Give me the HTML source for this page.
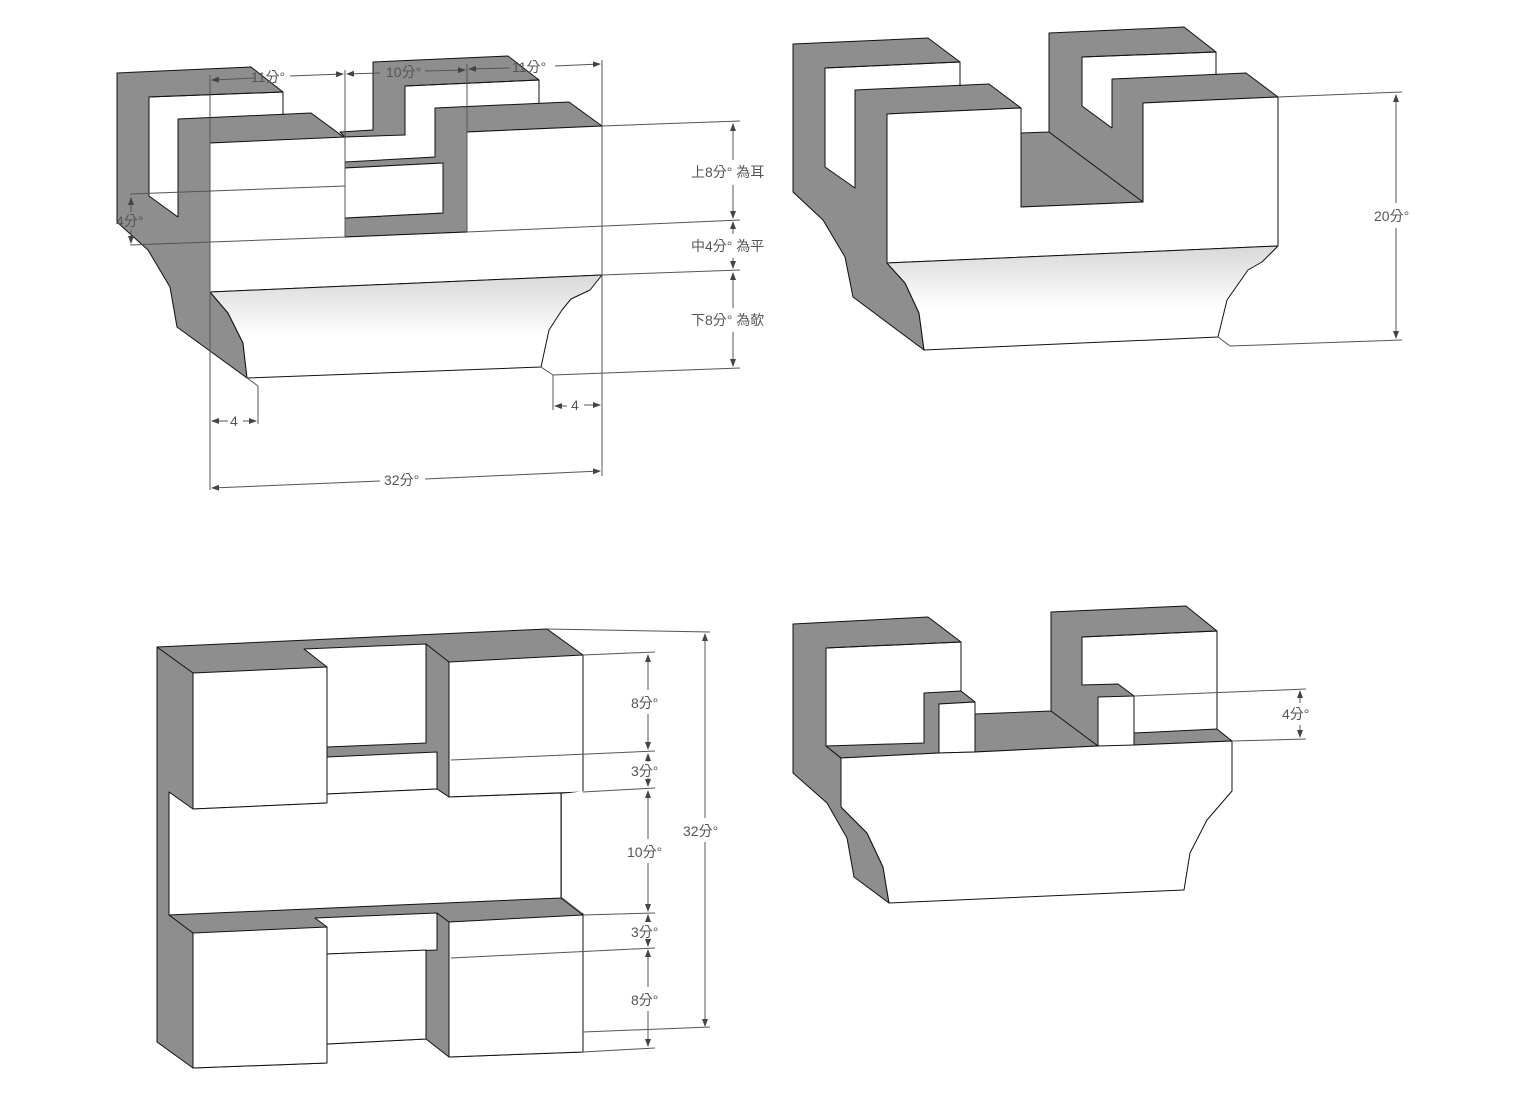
<!DOCTYPE html>
<html><head><meta charset="utf-8"><style>
html,body{margin:0;padding:0;background:#fff}
svg{display:block}
text{font-family:"Liberation Sans","Noto Sans CJK TC",sans-serif;font-size:14px;fill:#555}
</style></head><body>
<svg width="1534" height="1096" viewBox="0 0 1534 1096" xmlns="http://www.w3.org/2000/svg">
<defs>
<linearGradient id="g" x1="0" y1="0" x2="0" y2="1">
<stop offset="0" stop-color="#d8d8d8"/><stop offset="0.6" stop-color="#fff"/></linearGradient>
<linearGradient id="gs" x1="0" y1="0" x2="1" y2="0">
<stop offset="0" stop-color="#8a8a8a"/><stop offset="1" stop-color="#707070"/></linearGradient>
<marker id="a" markerWidth="8" markerHeight="8" refX="7" refY="4" orient="auto-start-reverse" markerUnits="userSpaceOnUse"><path d="M0,1 L8,4 L0,7z" fill="#444"/></marker>
</defs>
<g stroke="#111" stroke-width="1" stroke-linejoin="round">
<!-- FIG 1 -->
<polygon fill="#8e8e8e" points="117,73 251,67 283,92 149,97 149,196 178,217 178,119 311,113 345,138 210,143 210,292 228,313 243,343 247,378 177,327 170,287 148,250 117,222"/>
<polyline fill="none" points="149,97 283,92 283,115"/>
<polygon fill="#8e8e8e" points="373,62 508,56 539,80 405,86 405,135 345,137 340,132 373,130"/>
<polyline fill="none" points="405,86 539,80 539,103"/>
<polygon fill="#8e8e8e" points="435,108 569,102 602,126 467,132 467,232 345,237 345,218 443,213 443,163 345,168 345,162 435,157"/>
<polygon fill="#fff" points="345,168 443,163 443,213 345,218"/>
<polygon fill="#fff" points="210,143 345,137 345,237 467,232 467,132 602,126 602,275 210,292"/>
<polygon fill="url(#g)" points="210,292 602,275 590,290 571,299 562,310 549,330 541,367 247,378 243,343 228,313"/>
<!-- FIG 2 -->
<polygon fill="#8e8e8e" points="793,44 928,38 960,62 825,68 825,167 855,188 855,90 989,84 1021,108 887,114 887,263 905,283 919,313 924,350 853,297 845,257 823,220 793,192"/>
<polyline fill="none" points="825,68 960,62 960,86"/>
<polygon fill="#8e8e8e" points="1049,33 1184,27 1216,52 1082,57 1082,106 1112,128 1112,79 1246,73 1278,97 1143,103 1143,202 1021,207 1021,133 1049,132"/>
<line x1="1049" y1="132" x2="1143" y2="202"/>
<polyline fill="none" points="1082,57 1216,52 1216,75"/>
<polygon fill="#fff" points="887,114 1021,108 1021,207 1143,202 1143,103 1278,97 1278,246 887,263"/>
<polygon fill="url(#g)" points="887,263 1278,246 1262,262 1248,270 1227,300 1218,337 924,350 919,313 905,283"/>
<!-- FIG 3 -->
<polygon fill="#8e8e8e" points="157,647 547,629 583,655 583,1052 449,1057 426,1039 327,1044 327,1063 193,1068 157,1042"/>
<line x1="157" y1="647" x2="193" y2="673"/>
<polygon fill="#fff" points="304,649 426,644 426,743 327,747 327,667"/>
<polygon fill="#fff" points="193,673 327,667 327,803 193,809"/>
<polygon fill="#fff" points="449,662 583,655 583,792 449,797"/>
<line x1="426" y1="644" x2="449" y2="662"/>
<polygon fill="#fff" points="327,757 437,752 437,789 327,794"/>
<polygon fill="#fff" points="169,792 193,809 327,803 327,794 437,789 449,797 561,793 561,898 169,915"/>
<polygon fill="#fff" stroke="none" points="562,794 584,791 584,914 562,897"/>
<line x1="169" y1="915" x2="193" y2="933"/>
<polygon fill="#fff" points="315,918 437,913 437,950 327,954 327,927"/>
<polygon fill="#fff" points="327,954 426,950 426,1039 327,1044"/>
<polygon fill="#fff" points="193,933 327,927 327,1063 193,1068"/>
<polygon fill="#fff" points="449,922 583,915 583,1052 449,1057"/>
<line x1="561" y1="898" x2="583" y2="915"/>
<line x1="437" y1="913" x2="449" y2="922"/>
<!-- FIG 4 -->
<polygon fill="#8e8e8e" points="793,624 928,617 961,642 826,648 826,746 841,758 841,807 867,833 883,867 889,903 854,877 847,838 827,803 793,773"/>
<polyline fill="none" points="826,648 961,642 961,692"/>
<polygon fill="#8e8e8e" points="826,746 924,743 924,693 961,691 975,702 939,704 939,753 841,758"/>
<polygon fill="#8e8e8e" points="975,714 1051,711 1051,612 1186,606 1217,631 1082,637 1082,685 1118,684 1134,696 1098,697 1098,746 975,752"/>
<line x1="1051" y1="711" x2="1098" y2="746"/>
<polygon fill="#fff" points="939,704 975,702 975,752 939,753"/>
<polyline fill="none" points="1082,637 1217,631 1217,730"/>
<polygon fill="#8e8e8e" points="1134,733 1217,729 1232,741 1134,745"/>
<line x1="1134" y1="696" x2="1134" y2="745"/>
<polygon fill="#fff" points="841,758 939,753 975,752 1098,746 1134,745 1232,741 1232,791 1207,820 1190,853 1184,890 889,903 883,867 867,833 841,807"/>
</g>
<!-- dimension lines -->
<g stroke="#555" stroke-width="1" fill="none">
<line x1="210" y1="75" x2="210" y2="490"/><line x1="345" y1="70" x2="345" y2="237"/>
<line x1="467" y1="64" x2="467" y2="232"/><line x1="602" y1="60" x2="602" y2="476"/>
<line x1="212" y1="80" x2="255" y2="78" marker-start="url(#a)"/><line x1="290" y1="76" x2="343" y2="74" marker-end="url(#a)"/>
<line x1="347" y1="74" x2="380" y2="73" marker-start="url(#a)"/><line x1="425" y1="71" x2="465" y2="70" marker-end="url(#a)"/>
<line x1="469" y1="69" x2="510" y2="68" marker-start="url(#a)"/><line x1="555" y1="66" x2="600" y2="64" marker-end="url(#a)"/>
<line x1="602" y1="126" x2="740" y2="121"/><line x1="467" y1="232" x2="740" y2="220"/><line x1="602" y1="275" x2="740" y2="270"/>
<line x1="541" y1="367" x2="553" y2="375" /><line x1="553" y1="375" x2="740" y2="368"/>
<line x1="733" y1="124" x2="733" y2="160" marker-start="url(#a)"/><line x1="733" y1="185" x2="733" y2="218" marker-end="url(#a)"/>
<line x1="733" y1="222" x2="733" y2="234" marker-start="url(#a)"/><line x1="733" y1="258" x2="733" y2="268" marker-end="url(#a)"/>
<line x1="733" y1="273" x2="733" y2="308" marker-start="url(#a)"/><line x1="733" y1="332" x2="733" y2="366" marker-end="url(#a)"/>
<line x1="130" y1="194" x2="345" y2="186"/><line x1="130" y1="245" x2="345" y2="237"/>
<line x1="131" y1="198" x2="131" y2="212" marker-start="url(#a)"/><line x1="131" y1="230" x2="131" y2="243" marker-end="url(#a)"/>
<line x1="247" y1="378" x2="258" y2="386"/><line x1="258" y1="386" x2="258" y2="424"/>
<line x1="553" y1="375" x2="553" y2="410"/>
<line x1="212" y1="421" x2="228" y2="421" marker-start="url(#a)"/><line x1="243" y1="421" x2="256" y2="421" marker-end="url(#a)"/>
<line x1="555" y1="406" x2="567" y2="406" marker-start="url(#a)"/><line x1="584" y1="405" x2="600" y2="405" marker-end="url(#a)"/>
<line x1="212" y1="488" x2="380" y2="481" marker-start="url(#a)"/><line x1="425" y1="479" x2="600" y2="471" marker-end="url(#a)"/>
<!-- fig2 -->
<line x1="1278" y1="97" x2="1402" y2="92"/><line x1="1218" y1="337" x2="1230" y2="346"/><line x1="1230" y1="346" x2="1402" y2="340"/>
<line x1="1396" y1="95" x2="1396" y2="203" marker-start="url(#a)"/><line x1="1396" y1="228" x2="1396" y2="338" marker-end="url(#a)"/>
<!-- fig3 -->
<line x1="547" y1="629" x2="710" y2="632"/><line x1="583" y1="655" x2="655" y2="652"/>
<line x1="451" y1="760" x2="655" y2="751"/><line x1="583" y1="792" x2="655" y2="788"/>
<line x1="583" y1="915" x2="655" y2="913"/><line x1="451" y1="958" x2="655" y2="948"/>
<line x1="583" y1="1032" x2="710" y2="1027"/><line x1="583" y1="1052" x2="655" y2="1048"/>
<line x1="648" y1="655" x2="648" y2="690" marker-start="url(#a)"/><line x1="648" y1="714" x2="648" y2="749" marker-end="url(#a)"/>
<line x1="648" y1="754" x2="648" y2="762" marker-start="url(#a)"/><line x1="648" y1="778" x2="648" y2="786" marker-end="url(#a)"/>
<line x1="648" y1="791" x2="648" y2="839" marker-start="url(#a)"/><line x1="648" y1="863" x2="648" y2="911" marker-end="url(#a)"/>
<line x1="648" y1="915" x2="648" y2="922" marker-start="url(#a)"/><line x1="648" y1="940" x2="648" y2="946" marker-end="url(#a)"/>
<line x1="648" y1="950" x2="648" y2="987" marker-start="url(#a)"/><line x1="648" y1="1011" x2="648" y2="1046" marker-end="url(#a)"/>
<line x1="705" y1="634" x2="705" y2="818" marker-start="url(#a)"/><line x1="705" y1="842" x2="705" y2="1026" marker-end="url(#a)"/>
<!-- fig4 -->
<line x1="1134" y1="696" x2="1306" y2="689"/><line x1="1232" y1="741" x2="1306" y2="739"/>
<line x1="1300" y1="691" x2="1300" y2="703" marker-start="url(#a)"/><line x1="1300" y1="725" x2="1300" y2="737" marker-end="url(#a)"/>
</g>
<g>
<text x="251" y="82">11分°</text><text x="386" y="77">10分°</text><text x="512" y="72">11分°</text>
<text x="691" y="177">上8分° 為耳</text><text x="691" y="251">中4分° 為平</text><text x="691" y="325">下8分° 為欹</text>
<text x="116" y="226">4分°</text>
<text x="230" y="426">4</text><text x="571" y="410">4</text>
<text x="384" y="485">32分°</text>
<text x="1374" y="221">20分°</text>
<text x="631" y="708">8分°</text><text x="631" y="776">3分°</text><text x="627" y="857">10分°</text>
<text x="631" y="937">3分°</text><text x="631" y="1005">8分°</text><text x="683" y="836">32分°</text>
<text x="1282" y="719">4分°</text>
</g>
</svg>
</body></html>
